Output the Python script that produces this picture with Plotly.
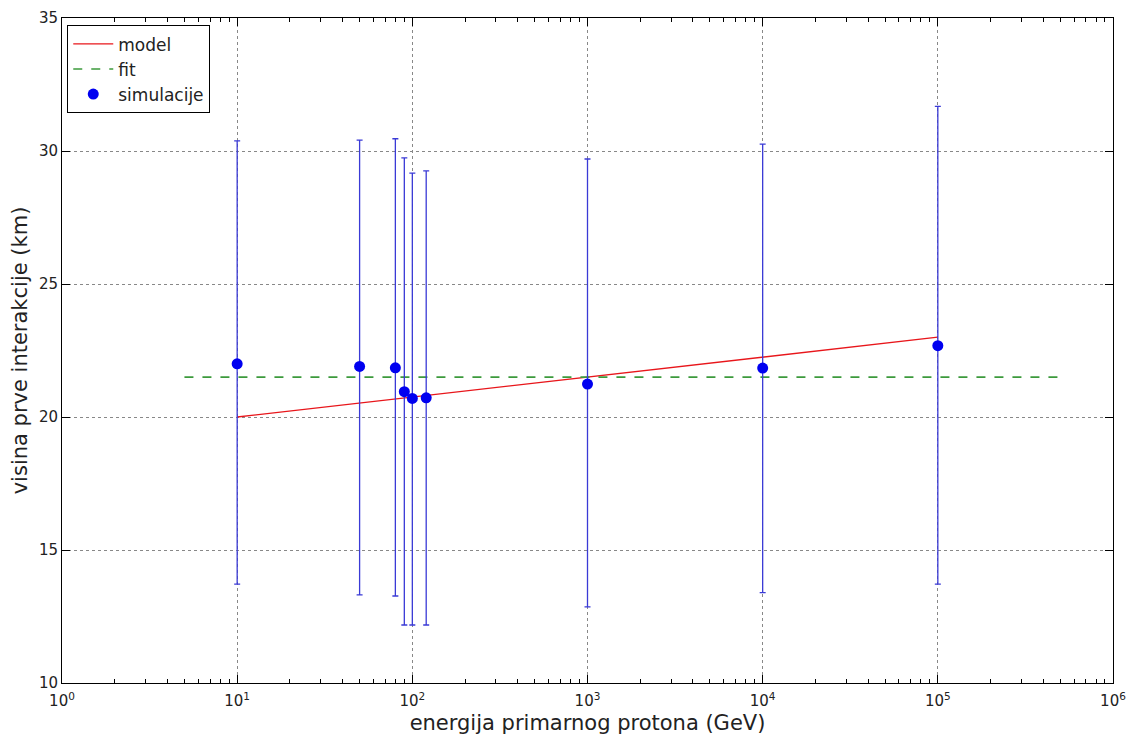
import plotly.graph_objects as go

# data
energy = [10, 50, 80, 90, 100, 120, 1000, 10000, 100000]
height = [22.0, 21.9, 21.85, 20.95, 20.7, 20.72, 21.24, 21.84, 22.68]
err_plus = [8.38, 8.51, 8.61, 8.79, 8.47, 8.53, 8.46, 8.42, 9.0]
err_minus = [8.28, 8.59, 8.58, 8.77, 8.52, 8.54, 8.38, 8.44, 8.96]

model_x = [10, 50, 80, 90, 100, 120, 1000, 10000, 100000]
model_y = [20.0, 20.52, 20.68, 20.72, 20.75, 20.81, 21.5, 22.25, 23.0]

fit_x = [5, 500000]
fit_y = [21.5, 21.5]

x_tickvals = [1, 10, 100, 1000, 10000, 100000, 1000000]
x_ticktext = ["10<sup>0</sup>", "10<sup>1</sup>", "10<sup>2</sup>", "10<sup>3</sup>",
              "10<sup>4</sup>", "10<sup>5</sup>", "10<sup>6</sup>"]
y_tickvals = [10, 15, 20, 25, 30, 35]

minor_vals = [m * 10 ** k for k in range(0, 6) for m in range(2, 10)]

FONT = "DejaVu Sans"

fig = go.Figure()
fig.add_trace(go.Scatter(x=model_x, y=model_y, mode="lines", name="model",
                         line=dict(color="#e8161b", width=1.3)))
fig.add_trace(go.Scatter(x=fit_x, y=fit_y, mode="lines", name="fit",
                         line=dict(color="#3c9a3c", width=1.6, dash="dash")))
fig.add_trace(go.Scatter(x=energy, y=height, mode="markers", name="simulacije",
                         marker=dict(color="#0000f0", size=11, line=dict(width=0)),
                         error_y=dict(type="data", symmetric=False, array=err_plus,
                                      arrayminus=err_minus, color="#3a3ad6",
                                      thickness=1.3, width=3)))

axis_common = dict(showline=True, linecolor="black", linewidth=1, mirror="allticks",
                   ticks="inside", ticklen=8, tickcolor="black", automargin=False,
                   showgrid=True, gridcolor="#888888", griddash="dot", gridwidth=1,
                   zeroline=False, tickfont=dict(family=FONT, size=15, color="#222222"))

fig.update_xaxes(type="log", range=[0, 6], tickvals=x_tickvals, ticktext=x_ticktext,
                 ticklabelstandoff=4,
                 minor=dict(tickvals=minor_vals, ticks="inside", ticklen=4,
                            tickcolor="black", showgrid=False),
                 title=dict(text="energija primarnog protona (GeV)",
                            font=dict(family=FONT, size=21, color="#222222"), standoff=6),
                 **axis_common)
fig.update_yaxes(range=[10, 35], tickvals=y_tickvals,
                 title=dict(text="visina prve interakcije (km)",
                            font=dict(family=FONT, size=21, color="#222222"), standoff=12),
                 **axis_common)

# page body adds an 8px offset; size the figure so the plot area lands where the reference's does
fig.update_layout(width=1127, height=732, margin=dict(l=54, r=22, t=10, b=57),
                  plot_bgcolor="white", paper_bgcolor="white",
                  font=dict(family=FONT, size=15, color="#222222"),
                  legend=dict(x=0.005, y=0.989, xanchor="left", yanchor="top",
                              bordercolor="black", borderwidth=1, bgcolor="white",
                              font=dict(family=FONT, size=17, color="#222222"),
                              tracegroupgap=0, itemwidth=40))

fig.write_html("out.html")
